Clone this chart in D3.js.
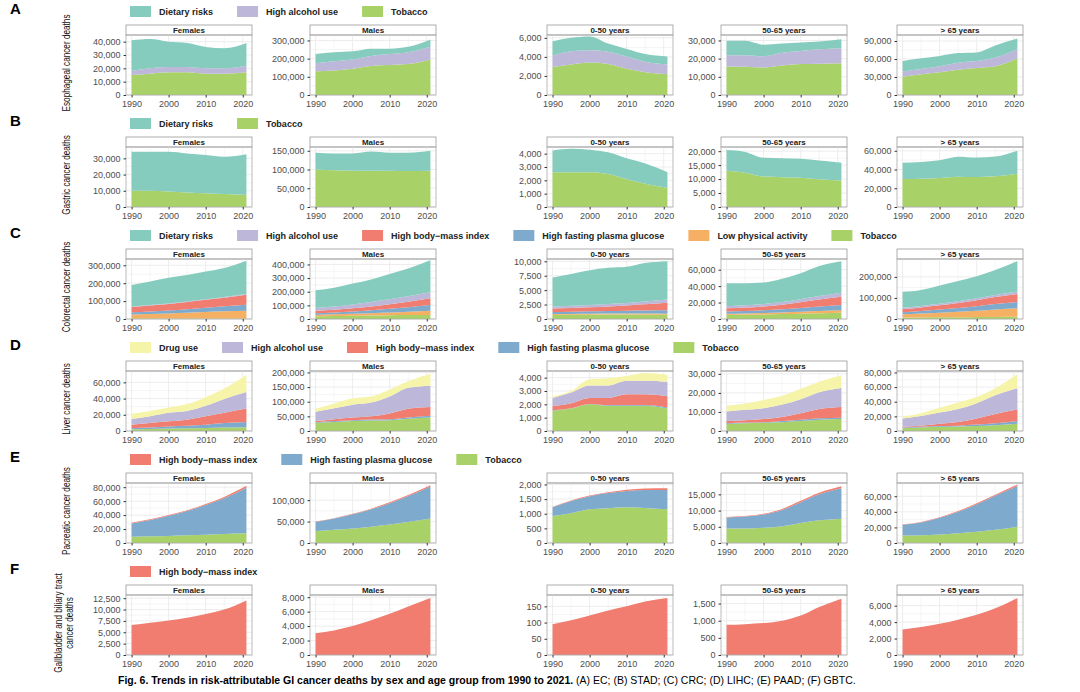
<!DOCTYPE html>
<html><head><meta charset="utf-8">
<script src="https://cdn.jsdelivr.net/npm/d3@7"></script>
<style>
body{margin:0;background:#fff;}
text{font-family:"Liberation Sans",Arial,sans-serif;}
</style></head>
<body><svg id="chart" width="1080" height="692"></svg>
<script>
const years = [1990, 1995, 2000, 2005, 2010, 2015, 2021];
const panelNames = ['Females', 'Males', '0-50 years', '50-65 years', '> 65 years'];
const xTicks = [1990, 2000, 2010, 2020];

const colors = {
  tobacco: '#a8d267', lpa: '#f5b063', glucose: '#7eabcd', bmi: '#f07d6f',
  alcohol: '#bdb7da', dietary: '#86ccbe', drug: '#f6f4a9'
};
const labels = {
  dietary: 'Dietary risks', alcohol: 'High alcohol use', bmi: 'High body\u2212mass index',
  glucose: 'High fasting plasma glucose', lpa: 'Low physical activity', tobacco: 'Tobacco', drug: 'Drug use'
};

// A: esophageal  (panels: F, M, 0-50, 50-65, >65)
const ecTobacco = [[15000,16000,17000,17000,16000,16000,17000],[130000,135000,145000,160000,165000,170000,195000],[2950,3200,3400,3250,2750,2400,2200],[15700,15500,15100,16200,17000,17200,17500],[30600,34600,38000,42100,45000,47900,61100]];
const ecAlcohol = [[3000,4000,4000,4000,4000,4000,5000],[45000,50000,50000,55000,60000,65000,70000],[1200,1400,1300,1300,1300,1100,1000],[6200,6400,6200,7000,7150,7900,8200],[8600,8700,9900,11500,11500,14400,15600]];
const ecDietary = [[23000,22000,19000,18000,16000,15000,17000],[50000,50000,45000,40000,30000,30000,40000],[1500,1400,1450,850,780,800,850],[7900,7900,6400,5100,4750,4300,5000],[17300,17800,17300,16200,14500,20200,17300]];
const ecTicks = [[0,10000,20000,30000,40000],[0,100000,200000,300000],[0,2000,4000,6000],[0,10000,20000,30000],[0,30000,60000,90000]];
const ecMax = [45000,330000,6300,33000,100000];

// B: gastric
const stTobacco = [[10000,10000,9500,9000,8500,8000,7500],[100000,98000,97000,97000,97000,96000,97000],[2610,2610,2610,2480,2090,1750,1440],[13000,12300,10900,10700,10500,9900,9500],[29800,30200,30900,32400,32000,32700,35600]];
const stDietary = [[24000,24000,24500,24000,23500,23000,25000],[45000,45000,46000,51000,48000,49000,53000],[1620,1750,1690,1620,1560,1510,1170],[7400,7450,6750,6800,6800,6800,6400],[17500,17800,18900,21100,20700,21100,24400]];
const stTicks = [[0,10000,20000,30000],[0,50000,100000,150000],[0,1000,2000,3000,4000],[0,5000,10000,15000,20000],[0,20000,40000,60000]];
const stMax = [37000,160000,4500,21500,64000];

// C: colorectal
const crTobacco = [[3000,3000,3000,3000,3000,3000,3000],[20000,22000,24000,26000,28000,30000,30000],[700,720,740,760,760,740,720],[5000,5200,5500,6000,6500,7000,7500],[6000,7000,8000,8000,9000,10000,11000]];
const crLpa = [[22000,25000,28000,32000,36000,40000,43000],[10000,12000,14000,17000,20000,24000,30000],[150,160,170,180,190,200,210],[1500,1600,1800,2000,2300,2600,3000],[16000,19000,22000,26000,30000,35000,40000]];
const crGlucose = [[12000,14000,17000,20000,24000,28000,33000],[12000,14000,17000,21000,27000,33000,42000],[350,380,420,460,500,550,600],[2500,2800,3200,3800,4500,5500,6500],[10000,12000,15000,18000,22000,26000,30000]];
const crBmi = [[30000,33000,36000,40000,44000,48000,56000],[18000,20000,24000,28000,33000,40000,50000],[600,650,700,780,900,1050,1300],[4000,4300,4800,5500,7000,8500,10000],[15000,17000,20000,24000,28000,33000,38000]];
const crAlcohol = [[3000,3000,3000,3000,3000,4000,4000],[20000,23000,28000,33000,36000,40000,45000],[350,370,390,410,430,480,550],[2500,2700,3000,3300,3800,4300,5000],[6000,7000,7000,8000,9000,10000,12000]];
const crDietary = [[120000,132000,143000,147000,155000,162000,186000],[130000,139000,153000,165000,186000,203000,233000],[5040,5530,6020,6285,6280,6670,6620],[28000,26900,26100,28300,31500,36500,38200],[76000,76000,87000,97000,105000,119000,145000]];
const crTicks = [[0,100000,200000,300000],[0,100000,200000,300000,400000],[0,2500,5000,7500,10000],[0,20000,40000,60000],[0,100000,200000]];
const crMax = [335000,440000,10400,73000,285000];

// D: liver
const liTobacco = [[2100,2500,3000,3400,3800,4300,4700],[28000,31000,34000,36000,37000,42000,46000],[1520,1680,2000,1890,1890,1890,1680],[3700,4100,4300,4600,5200,5900,6300],[3900,4900,5900,6300,6800,7800,9800]];
const liGlucose = [[1300,1700,2500,3000,3900,5500,6300],[2000,3000,3000,3000,3000,4000,6000],[30,30,30,60,60,60,80],[400,300,300,600,700,800,700],[1000,1000,900,1000,2000,2900,3900]];
const liBmi = [[4300,5600,6400,7600,10600,12800,16700],[4000,6000,9000,11000,20000,30000,30000],[320,370,450,530,800,800,850],[1100,1200,1700,2200,3400,4800,5600],[1000,1400,3000,4900,8300,12700,15600]];
const liAlcohol = [[7200,8500,10700,10700,12700,17000,20300],[32000,38000,44000,47000,58000,72000,73000],[610,800,930,930,1010,1010,1070],[5000,5500,5700,6500,7400,8900,10000],[11200,13200,15600,18000,20900,25400,29200]];
const liDrug = [[6400,6400,6300,8500,10700,12700,21400],[10000,16000,22000,21000,24000,22000,41000],[130,120,480,540,370,590,530],[3100,3300,4300,4600,5500,5500,6700],[2400,3900,6300,8800,8300,9700,19500]];
const liTicks = [[0,20000,40000,60000],[0,50000,100000,150000,200000],[0,1000,2000,3000,4000],[0,10000,20000,30000],[0,20000,40000,60000,80000]];
const liMax = [74000,205000,4500,31500,82000];

// E: pancreatic
const paTobacco = [[9000,9500,10000,11000,12000,13000,14000],[28000,31000,34000,38000,43000,49000,57000],[920,1020,1150,1190,1220,1200,1150],[4500,4500,4700,5200,6200,7000,7500],[9500,10000,11000,12500,14500,17000,21000]];
const paGlucose = [[19000,23500,29000,34800,42500,51000,65500],[21000,26000,32800,40500,50000,60500,75000],[300,415,450,515,560,610,660],[3400,3650,4100,5000,6400,8000,9400],[14000,16400,21300,27500,35300,43500,52000]];
const paBmi = [[1000,1000,1000,1200,1500,2000,2500],[1000,1000,1200,1500,2000,2500,3000],[10,15,20,25,40,50,60],[100,150,200,300,400,500,600],[500,600,700,1000,1200,1500,2000]];
const paTicks = [[0,20000,40000,60000,80000],[0,50000,100000],[0,500,1000,1500,2000],[0,5000,10000,15000],[0,20000,40000,60000]];
const paMax = [86000,140000,2050,18500,77000];

// F: gallbladder
const gbBmi = [[6600,7100,7600,8200,9000,10000,12000],[3000,3400,4000,4800,5700,6700,7900],[95,107,122,137,150,165,176],[880,900,930,1000,1150,1400,1640],[3100,3400,3800,4300,4900,5700,6950]];
const gbTicks = [[0,2500,5000,7500,10000,12500],[0,2000,4000,6000,8000],[0,50,100,150],[0,500,1000,1500],[0,2000,4000,6000]];
const gbMax = [13200,8300,185,1750,7300];

// rows: stack order bottom -> top, legend order separately
const rows = [
  {letter:'A', title:['Esophageal cancer deaths'], stack:{tobacco:ecTobacco, alcohol:ecAlcohol, dietary:ecDietary}, legend:['dietary','alcohol','tobacco'], ticks:ecTicks, max:ecMax},
  {letter:'B', title:['Gastric cancer deaths'], stack:{tobacco:stTobacco, dietary:stDietary}, legend:['dietary','tobacco'], ticks:stTicks, max:stMax},
  {letter:'C', title:['Colorectal cancer deaths'], stack:{tobacco:crTobacco, lpa:crLpa, glucose:crGlucose, bmi:crBmi, alcohol:crAlcohol, dietary:crDietary}, legend:['dietary','alcohol','bmi','glucose','lpa','tobacco'], ticks:crTicks, max:crMax},
  {letter:'D', title:['Liver cancer deaths'], stack:{tobacco:liTobacco, glucose:liGlucose, bmi:liBmi, alcohol:liAlcohol, drug:liDrug}, legend:['drug','alcohol','bmi','glucose','tobacco'], ticks:liTicks, max:liMax},
  {letter:'E', title:['Pacreatic cancer deaths'], stack:{tobacco:paTobacco, glucose:paGlucose, bmi:paBmi}, legend:['bmi','glucose','tobacco'], ticks:paTicks, max:paMax},
  {letter:'F', title:['Gallbladder and biliary tract','cancer deaths'], stack:{bmi:gbBmi}, legend:['bmi'], ticks:gbTicks, max:gbMax}
];

const svg = d3.select('#chart');
const panelX = [126, 310, 547, 721, 897];
const panelW = 126;
const rowStep = 112, firstTop = 25, stripH = 10, plotH = 60;

rows.forEach((row, r) => {
  const top = firstTop + r * rowStep;
  svg.append('text').attr('x', 10).attr('y', top - 11).attr('font-size', 15).attr('font-weight', 'bold').text(row.letter);

  // legend
  let lx = 130;
  row.legend.forEach(k => {
    svg.append('rect').attr('x', lx).attr('y', top - 19).attr('width', 21).attr('height', 11).attr('fill', colors[k]);
    const t = svg.append('text').attr('x', lx + 29).attr('y', top - 10).attr('font-size', 9).attr('font-weight', 'bold').attr('fill', '#222').text(labels[k]);
    lx += 29 + t.node().getComputedTextLength() + 24;
  });

  // y title (condensed)
  const two = row.title.length > 1;
  row.title.forEach((line, i) => {
    const t = svg.append('text')
      .attr('transform', `translate(${two ? 62 + i * 11 : 70},${top + 38}) rotate(-90)`)
      .attr('text-anchor', 'middle').attr('font-size', 10.5).attr('fill', '#111').text(line);
    const w = t.node().getComputedTextLength();
    t.attr('textLength', w * 0.78).attr('lengthAdjust', 'spacingAndGlyphs');
  });

  const keys = Object.keys(row.stack);
  panelX.forEach((px, p) => {
    const g = svg.append('g').attr('transform', `translate(${px},${top})`);
    const x = d3.scaleLinear().domain([1988.5, 2022.5]).range([0, panelW]);
    const y = d3.scaleLinear().domain([0, row.max[p]]).range([stripH + plotH, stripH]);

    // strip
    g.append('rect').attr('x', 0).attr('y', 0).attr('width', panelW).attr('height', stripH).attr('fill', '#fff').attr('stroke', '#999').attr('stroke-width', 0.8);
    g.append('text').attr('x', panelW / 2).attr('y', 8).attr('text-anchor', 'middle').attr('font-size', 8).attr('font-weight', 'bold').attr('fill', '#222').text(panelNames[p]);

    // grid
    const grid = g.append('g').attr('stroke', '#ebebeb');
    d3.range(1990, 2021, 5).forEach(v => grid.append('line').attr('x1', x(v)).attr('x2', x(v)).attr('y1', stripH).attr('y2', stripH + plotH).attr('stroke-width', v % 10 === 0 ? 0.9 : 0.5));
    const tk = row.ticks[p];
    tk.forEach((v, i) => {
      grid.append('line').attr('x1', 0).attr('x2', panelW).attr('y1', y(v)).attr('y2', y(v)).attr('stroke-width', 0.9);
      if (i < tk.length - 1) {
        const m = (v + tk[i + 1]) / 2;
        grid.append('line').attr('x1', 0).attr('x2', panelW).attr('y1', y(m)).attr('y2', y(m)).attr('stroke-width', 0.5);
      }
    });

    // stacked areas
    const table = years.map((yr, i) => {
      const o = {year: yr};
      keys.forEach(k => o[k] = row.stack[k][p][i]);
      return o;
    });
    const series = d3.stack().keys(keys)(table);
    const area = d3.area().x(d => x(d.data.year)).y0(d => y(d[0])).y1(d => y(d[1])).curve(d3.curveMonotoneX);
    g.selectAll('path.a').data(series).join('path').attr('class', 'a').attr('d', area).attr('fill', d => colors[d.key]);

    // border
    g.append('rect').attr('x', 0).attr('y', stripH).attr('width', panelW).attr('height', plotH).attr('fill', 'none').attr('stroke', '#aaa').attr('stroke-width', 0.8);

    // axes
    const ya = g.append('g')
      .call(d3.axisLeft(y).tickValues(tk).tickSize(2.5).tickFormat(d3.format(',')));
    const xa = g.append('g').attr('transform', `translate(0,${stripH + plotH})`)
      .call(d3.axisBottom(x).tickValues(xTicks).tickSize(2.5).tickFormat(d3.format('d')));
    [ya, xa].forEach(a => {
      a.select('.domain').remove();
      a.selectAll('line').attr('stroke', '#333');
      a.selectAll('text').attr('fill', '#4d4d4d').attr('font-size', 9);
    });
  });
});

const cap = svg.append('text').attr('x', 118).attr('y', 684).attr('font-size', 10.5).attr('font-family', '"Liberation Serif","Times New Roman",serif');
cap.append('tspan').attr('font-weight', 'bold').text('Fig. 6. Trends in risk-attributable GI cancer deaths by sex and age group from 1990 to 2021.');
cap.append('tspan').text(' (A) EC; (B) STAD; (C) CRC; (D) LIHC; (E) PAAD; (F) GBTC.');
</script></body></html>
